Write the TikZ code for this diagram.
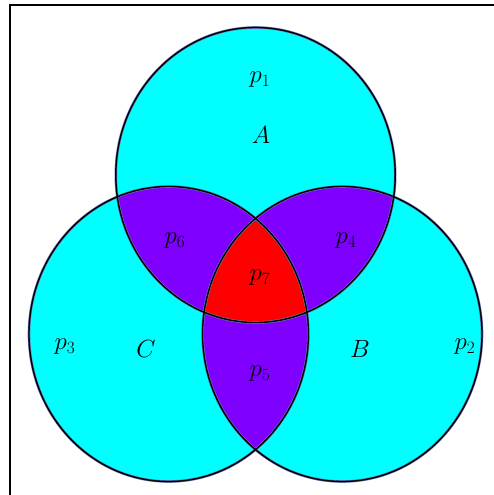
\documentclass[tikz,border=0pt]{standalone}
\definecolor{vcyan}{RGB}{0,255,255}
\definecolor{vpurple}{RGB}{127,0,255}
\definecolor{vred}{RGB}{255,0,0}
\definecolor{halo}{RGB}{100,120,180}
\tikzset{
  lab/.style={inner sep=0pt, font=\fontsize{26}{30}\selectfont},
  halostroke/.style={draw=halo, line width=2.6pt},
  mainstroke/.style={draw=black, line width=1.4pt},
}
\begin{document}
\begin{tikzpicture}[x=1pt,y=-1pt]
\useasboundingbox (0,0) rectangle (493,495);
\draw[line width=2pt] (9.5,5.5) rectangle (620,620);
\coordinate (cA) at (255.5,175);
\coordinate (cB) at (342.3,334);
\coordinate (cC) at (168.7,334);
\def\er{x radius=139.7pt, y radius=147.5pt}
% base fills
\fill[vcyan] (cA) ellipse [x radius=139.7pt, y radius=147.5pt];
\fill[vcyan] (cB) ellipse [x radius=139.7pt, y radius=147.5pt];
\fill[vcyan] (cC) ellipse [x radius=139.7pt, y radius=147.5pt];
% pairwise intersections
\begin{scope}
  \clip (cA) ellipse [x radius=139.7pt, y radius=147.5pt];
  \fill[vpurple] (cB) ellipse [x radius=139.7pt, y radius=147.5pt];
  \fill[vpurple] (cC) ellipse [x radius=139.7pt, y radius=147.5pt];
\end{scope}
\begin{scope}
  \clip (cB) ellipse [x radius=139.7pt, y radius=147.5pt];
  \fill[vpurple] (cC) ellipse [x radius=139.7pt, y radius=147.5pt];
\end{scope}
% triple intersection
\begin{scope}
  \clip (cA) ellipse [x radius=139.7pt, y radius=147.5pt];
  \clip (cB) ellipse [x radius=139.7pt, y radius=147.5pt];
  \fill[vred] (cC) ellipse [x radius=139.7pt, y radius=147.5pt];
\end{scope}
% outlines
\foreach \c in {cA,cB,cC} {
  \draw[halostroke] (\c) ellipse [x radius=139.7pt, y radius=147.5pt];
}
\foreach \c in {cA,cB,cC} {
  \draw[mainstroke] (\c) ellipse [x radius=139.7pt, y radius=147.5pt];
}
% labels
\node[lab] (p1) at (260,80) {$p_1$};
\node[lab] (lA) at (261,135) {$A$};
\node[lab] (p6) at (175,241) {$p_6$};
\node[lab] (p4) at (346,241) {$p_4$};
\node[lab] (p7) at (260,278) {$p_7$};
\node[lab] (p3) at (65,347) {$p_3$};
\node[lab] (lC) at (146,349) {$C$};
\node[lab] (lB) at (360,349) {$B$};
\node[lab] (p2) at (465,347) {$p_2$};
\node[lab] (p5) at (260,374) {$p_5$};
\end{tikzpicture}
\end{document}
